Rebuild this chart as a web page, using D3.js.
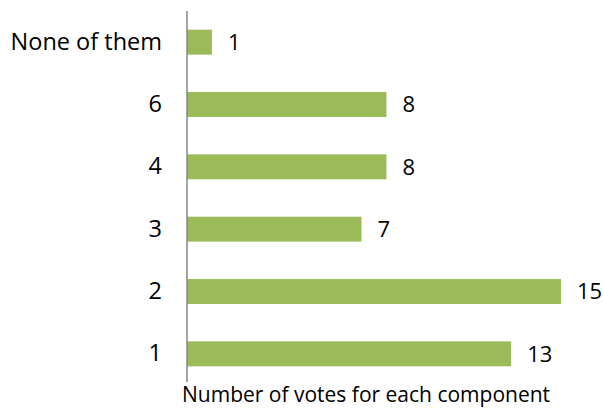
<!DOCTYPE html>
<html>
<head>
<meta charset="utf-8">
<script src="https://cdn.jsdelivr.net/npm/d3@7"></script>
<style>
  html, body { margin: 0; padding: 0; background: #fff; }
  text { font-family: "Open Sans", sans-serif; fill: #000; }
</style>
</head>
<body>
<svg id="chart" width="604" height="408"></svg>
<script>
const categories = ["1", "2", "3", "4", "6", "None of them"];
const votes = [13, 15, 7, 8, 8, 1];
const axisTitle = "Number of votes for each component";

const svg = d3.select("#chart");
const x0 = 187;
const x = d3.scaleLinear().domain([0, 15]).range([x0, 561]);
const y = d3.scaleBand().domain(categories).range([385, 11]).paddingInner(0.6).paddingOuter(0.3);

// bars
svg.selectAll("rect.bar").data(categories).enter().append("rect")
  .attr("class", "bar")
  .attr("x", x(0))
  .attr("y", d => y(d))
  .attr("width", (d, i) => x(votes[i]) - x(0))
  .attr("height", y.bandwidth())
  .attr("fill", "#9BBB59");

// y axis
const yAxis = d3.axisLeft(y).tickSize(0).tickPadding(25);
const gy = svg.append("g").attr("transform", `translate(${x0},0)`).call(yAxis);
gy.select(".domain").remove();
gy.selectAll("text").style("font-size", "23.5px").style("font-family", "'Open Sans', sans-serif").attr("fill", "#000");
svg.append("line").attr("x1", x0).attr("x2", x0).attr("y1", 11).attr("y2", 382)
  .attr("stroke", "#868686").attr("stroke-width", 1.5);

// value labels
svg.selectAll("text.val").data(categories).enter().append("text")
  .attr("class", "val")
  .attr("x", (d, i) => x(votes[i]) + 16)
  .attr("y", d => y(d) + y.bandwidth() / 2)
  .attr("dy", "0.36em")
  .style("font-size", "22px")
  .text((d, i) => votes[i]);

// axis title
svg.append("text").attr("x", 182).attr("y", 401.5)
  .style("font-size", "21px")
  .text(axisTitle);
</script>
</body>
</html>
